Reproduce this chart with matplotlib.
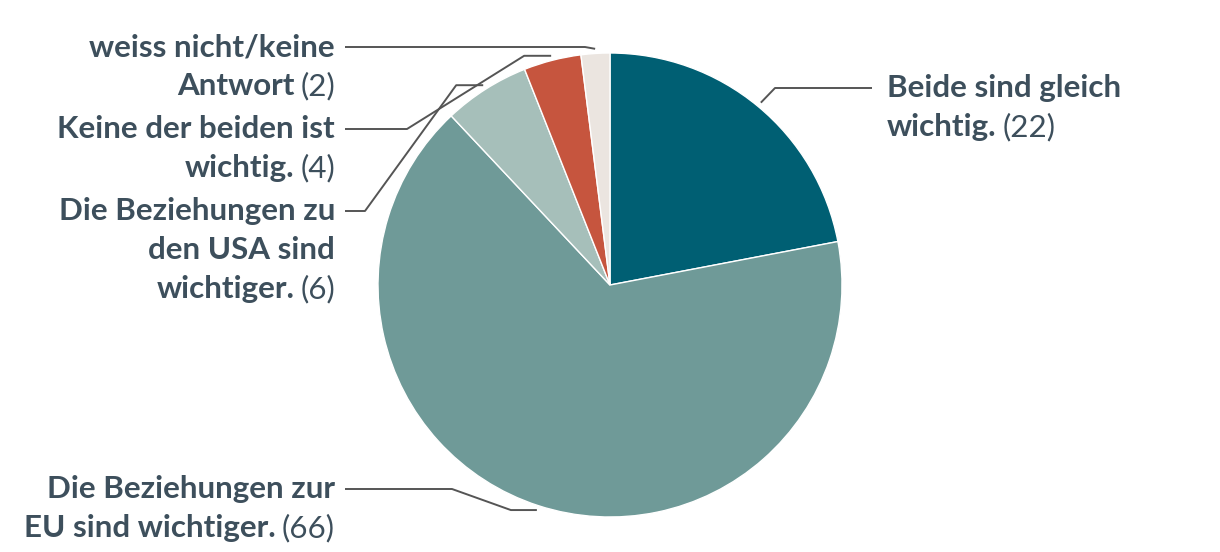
import numpy as np
import matplotlib.pyplot as plt

# data (clockwise from 12 o'clock)
labels = ["Beide sind gleich\nwichtig.",
          "Die Beziehungen zur\nEU sind wichtiger.",
          "Die Beziehungen zu\nden USA sind\nwichtiger.",
          "Keine der beiden ist\nwichtig.",
          "weiss nicht/keine\nAntwort"]
values = [22, 66, 6, 4, 2]
colors = ["#005f73", "#6f9a98", "#a6bfba", "#c6553e", "#ebe5e0"]

# label layout (pixel coords, y measured from top)
sides = ["right", "left", "left", "left", "left"]
label_y = [88, 489, 211, 129, 47]
elbow_x = [775, 452, 365, 407, 585]
stub = [0, 26, 27, 27, 0]

TXT = "#3d4f5c"
LINE = "#555555"
FONT = "Lato"
FS = 22.6
LH = 39

W, H = 1220, 552
cx, cy, R = 610, 285, 232


def main():
    fig = plt.figure(figsize=(W / 100, H / 100), dpi=100)
    ax = fig.add_axes([0, 0, 1, 1])
    wedges, _ = ax.pie(values, colors=colors, startangle=90, counterclock=False,
                       center=(cx, H - cy), radius=R,
                       wedgeprops=dict(edgecolor="white", linewidth=1))
    ax.set_xlim(0, W)
    ax.set_ylim(0, H)
    ax.set_aspect("equal")
    ax.axis("off")

    renderer = fig.canvas.get_renderer()

    for i, w in enumerate(wedges):
        ang = np.deg2rad((w.theta1 + w.theta2) / 2)
        axx = cx + 1.02 * R * np.cos(ang)
        ayy = cy - 1.02 * R * np.sin(ang)
        ly = label_y[i]
        if sides[i] == "right":
            xs = [axx, axx + stub[i], elbow_x[i], 872]
            tx = 887
        else:
            xs = [axx, axx - stub[i], elbow_x[i], 345]
            tx = 335
        ys = [ayy, ayy, ly, ly]
        ax.plot(xs, [H - y for y in ys], color=LINE, lw=1.4, solid_capstyle="butt")

        lines = labels[i].split("\n")
        count = f"({values[i]})"
        for j, line in enumerate(lines):
            y = H - (ly + j * LH)
            last = j == len(lines) - 1
            if sides[i] == "left":
                if last:
                    t = ax.text(tx, y, count, ha="right", va="center", fontsize=FS,
                                family=FONT, color=TXT)
                    bb = t.get_window_extent(renderer)
                    ax.text(bb.x0 - 6, y, line, ha="right", va="center", fontsize=FS,
                            family=FONT, fontweight="bold", color=TXT)
                else:
                    ax.text(tx, y, line, ha="right", va="center", fontsize=FS,
                            family=FONT, fontweight="bold", color=TXT)
            else:
                t = ax.text(tx, y, line, ha="left", va="center", fontsize=FS,
                            family=FONT, fontweight="bold", color=TXT)
                if last:
                    bb = t.get_window_extent(renderer)
                    ax.text(bb.x1 + 6, y, count, ha="left", va="center", fontsize=FS,
                            family=FONT, color=TXT)

    fig.savefig("out.png", dpi=100)


if __name__ == "__main__":
    main()
